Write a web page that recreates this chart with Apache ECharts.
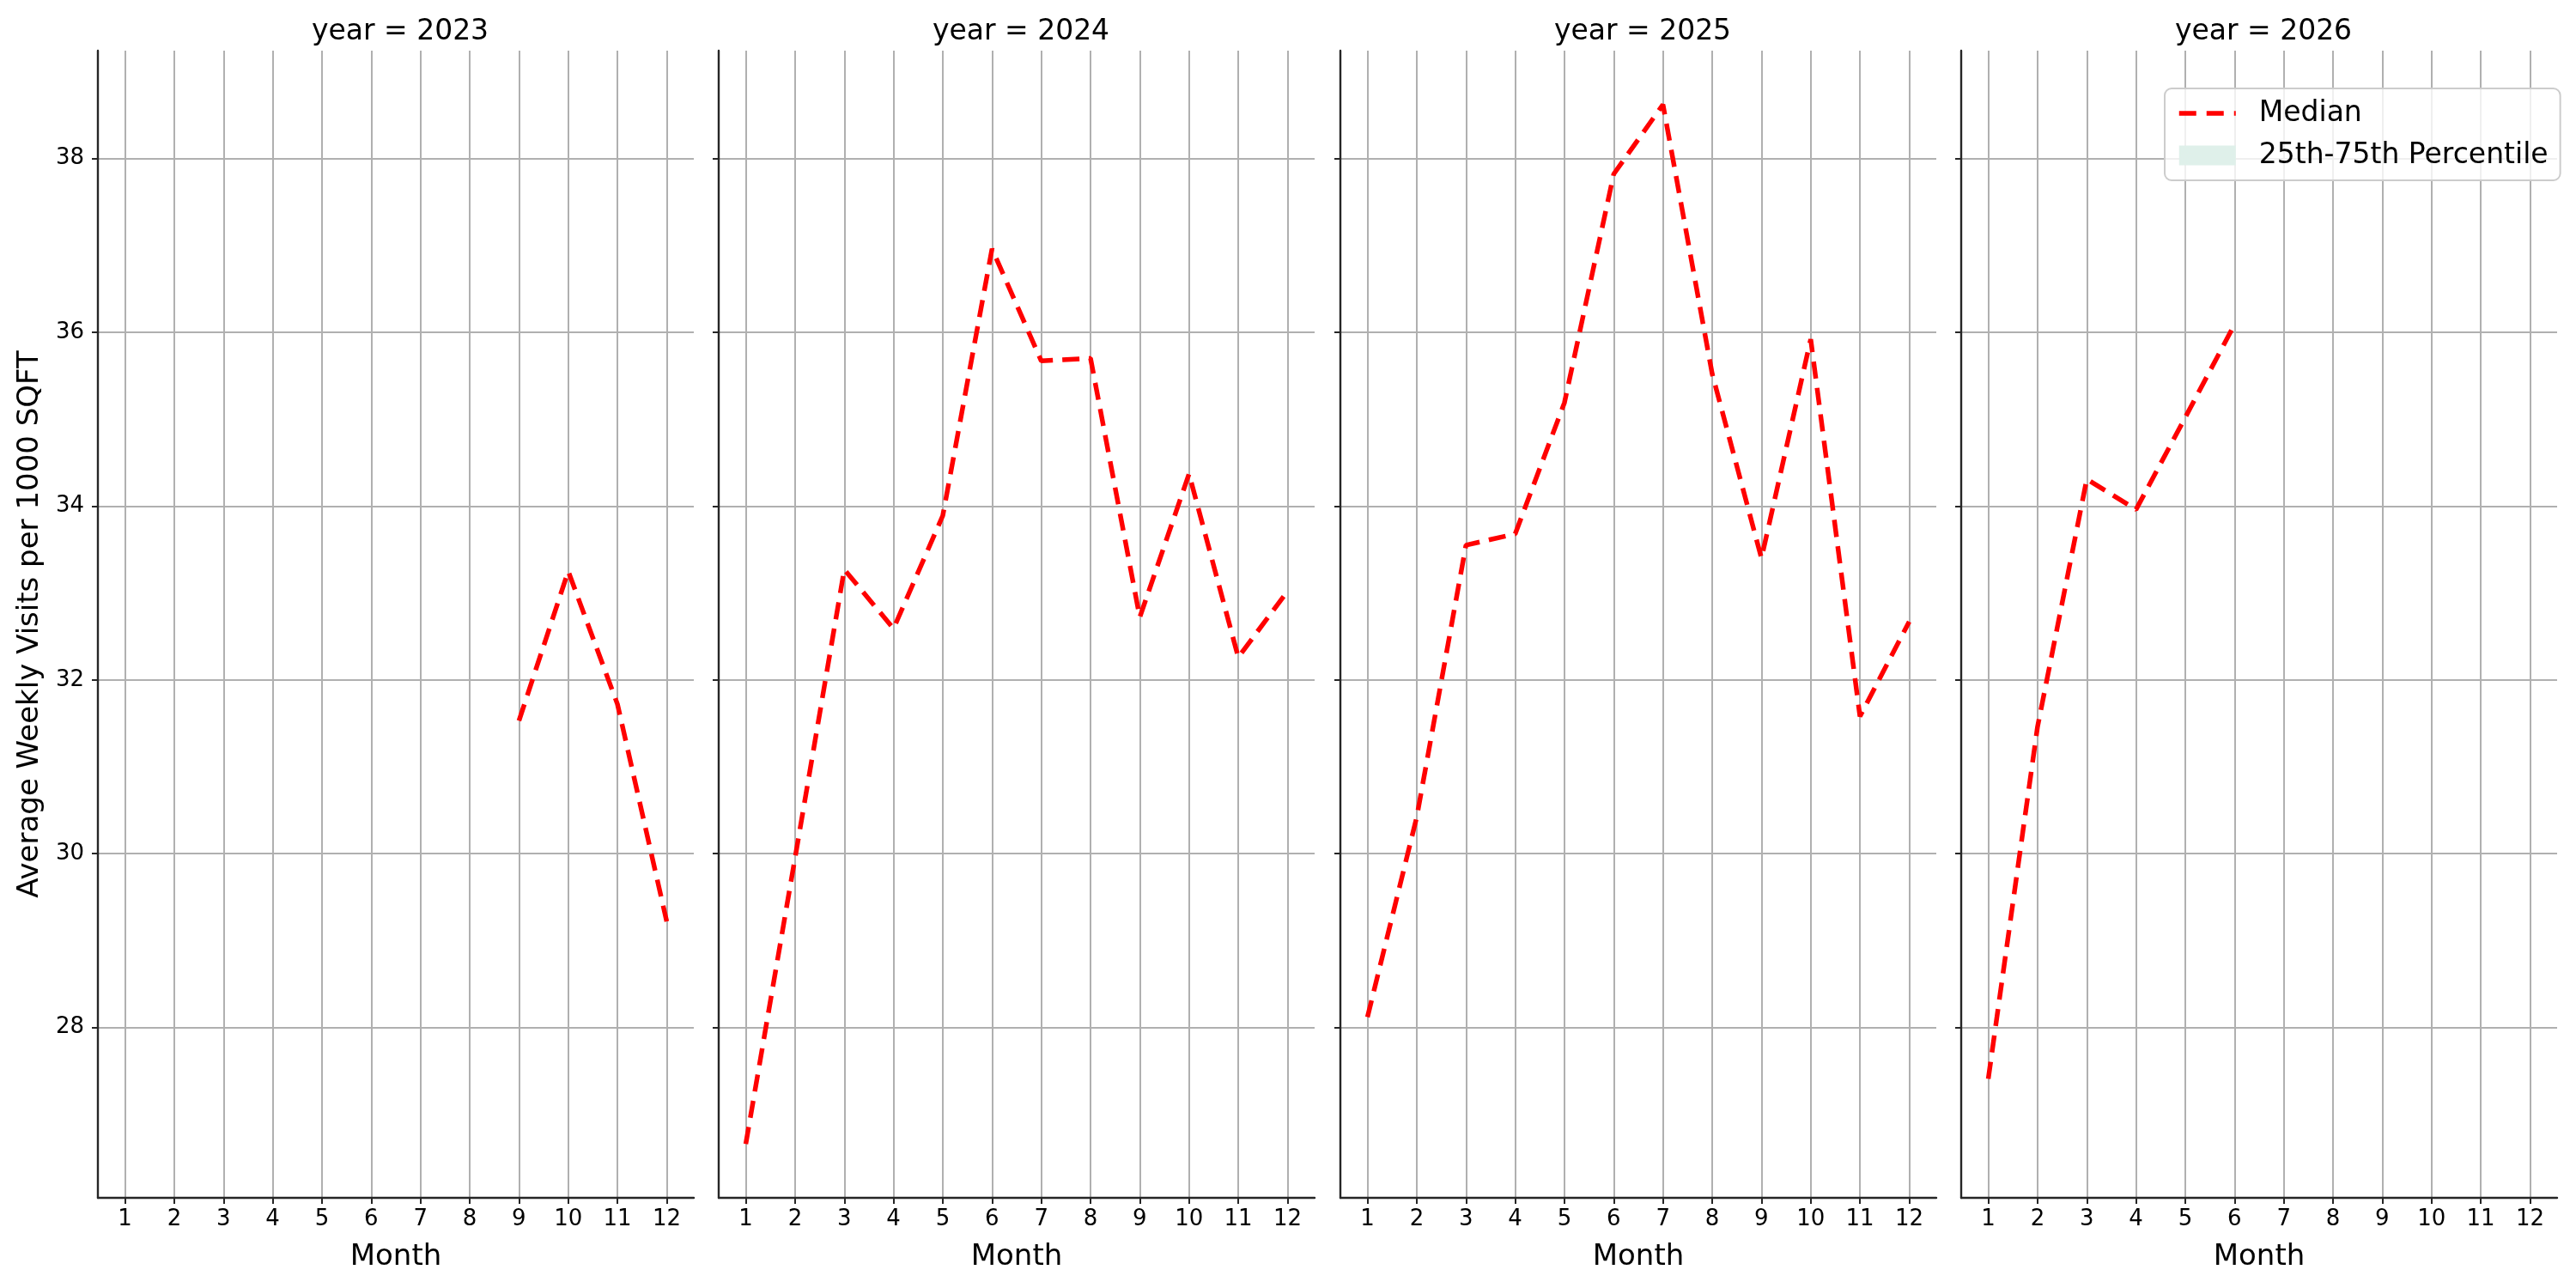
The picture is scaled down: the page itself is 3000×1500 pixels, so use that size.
<!DOCTYPE html>
<html><head><meta charset="utf-8">
<script src="https://cdn.jsdelivr.net/npm/echarts@6/dist/echarts.min.js"></script>
<style>html,body{margin:0;padding:0;background:#fff}#c{width:3000px;height:1500px}</style>
</head><body><div id="c"></div>
<script>
// ---- data ----
const months = [1, 2, 3, 4, 5, 6, 7, 8, 9, 10, 11, 12];
const years = ['2023', '2024', '2025', '2026'];
const median2023 = [null, null, null, null, null, null, null, null, 31.53, 33.25, 31.72, 29.22];
const median2024 = [26.66, 29.95, 33.27, 32.59, 33.89, 36.96, 35.67, 35.70, 32.72, 34.37, 32.26, 33.02];
const median2025 = [28.12, 30.42, 33.55, 33.68, 35.19, 37.82, 38.62, 35.52, 33.40, 35.92, 31.58, 32.67];
const median2026 = [27.41, 31.46, 34.31, 33.96, 35.02, 36.09, null, null, null, null, null, null];
const yTicks = [28, 30, 32, 34, 36, 38];
const xLimits = [0.45, 12.55];
const yLimits = [26.04, 39.24];
const medians = [median2023, median2024, median2025, median2026];

// ---- layout ----
const FONT = 'DejaVu Sans';
const gridLefts = [114, 837, 1561, 2284];
const gridW = 694, gridTop = 59, gridH = 1336;
const SPINE = '#262626';
const RED = '#ff0000';
const BAND = '#dff0ea';

const grids = [], xAxes = [], yAxes = [], series = [], titles = [];
years.forEach((yr, i) => {
  grids.push({left: gridLefts[i], top: gridTop, width: gridW, height: gridH, containLabel: false});
  titles.push({
    text: 'year = ' + yr, left: gridLefts[i] + gridW / 2, top: 16, textAlign: 'center',
    textStyle: {fontFamily: FONT, fontSize: 33, fontWeight: 'normal', color: '#000'}
  });
  xAxes.push({
    type: 'value', gridIndex: i, min: xLimits[0], max: xLimits[1],
    name: 'Month', nameLocation: 'middle', nameGap: 52,
    nameTextStyle: {fontFamily: FONT, fontSize: 34, color: '#000'},
    axisLine: {show: true, onZero: false, lineStyle: {color: SPINE, width: 2.4}},
    axisTick: {show: true, length: 7, inside: false, customValues: months, lineStyle: {color: SPINE, width: 2}},
    axisLabel: {show: true, customValues: months, margin: 12, fontFamily: FONT, fontSize: 26, color: '#000'},
    splitLine: {show: true, lineStyle: {color: '#b0b0b0', width: 2}}
  });
  yAxes.push({
    type: 'value', gridIndex: i, min: yLimits[0], max: yLimits[1],
    name: i === 0 ? 'Average Weekly Visits per 1000 SQFT' : '',
    nameLocation: 'middle', nameGap: 62, nameRotate: 90,
    nameTextStyle: {fontFamily: FONT, fontSize: 34, color: '#000'},
    axisLine: {show: true, onZero: false, lineStyle: {color: SPINE, width: 2.4}},
    axisTick: {show: true, length: 7, inside: false, customValues: yTicks, lineStyle: {color: SPINE, width: 2}},
    axisLabel: {show: i === 0, customValues: yTicks, margin: 16, fontFamily: FONT, fontSize: 26, color: '#000'},
    splitLine: {show: true, lineStyle: {color: '#b0b0b0', width: 2}}
  });
  const pts = [];
  months.forEach((m, k) => { if (medians[i][k] != null) pts.push([m, medians[i][k]]); });
  series.push({
    name: 'Median', type: 'line', xAxisIndex: i, yAxisIndex: i, data: pts,
    symbol: 'none', z: 5, animation: false,
    itemStyle: {color: RED},
    lineStyle: {color: RED, width: 5.5, type: [20, 11], cap: 'butt'}
  });
});
series.push({
  name: '25th-75th Percentile', type: 'line', xAxisIndex: 3, yAxisIndex: 3, data: [],
  symbol: 'none', animation: false,
  itemStyle: {color: BAND},
  lineStyle: {width: 0, opacity: 0},
  areaStyle: {color: BAND}
});

const chart = echarts.init(document.getElementById('c'), null, {renderer: 'canvas'});
chart.setOption({
  backgroundColor: '#ffffff',
  animation: false,
  textStyle: {fontFamily: FONT},
  title: titles,
  grid: grids,
  xAxis: xAxes,
  yAxis: yAxes,
  legend: {
    orient: 'vertical', left: 2521, top: 103,
    padding: [12, 14, 12, 14], itemGap: 15, itemWidth: 66, itemHeight: 23,
    backgroundColor: 'rgba(255,255,255,0.8)', borderColor: '#cccccc', borderWidth: 2, borderRadius: 8,
    textStyle: {fontFamily: FONT, fontSize: 33, lineHeight: 34, color: '#000', padding: [0, 0, 0, 22]},
    data: [
      {name: 'Median',
       itemStyle: {color: 'rgba(0,0,0,0)', borderColor: 'rgba(0,0,0,0)', borderWidth: 0},
       lineStyle: {color: RED, width: 5.5, type: [20, 12]}},
      {name: '25th-75th Percentile', icon: 'rect', itemStyle: {color: BAND}}
    ]
  },
  series: series
});
</script>
</body></html>
